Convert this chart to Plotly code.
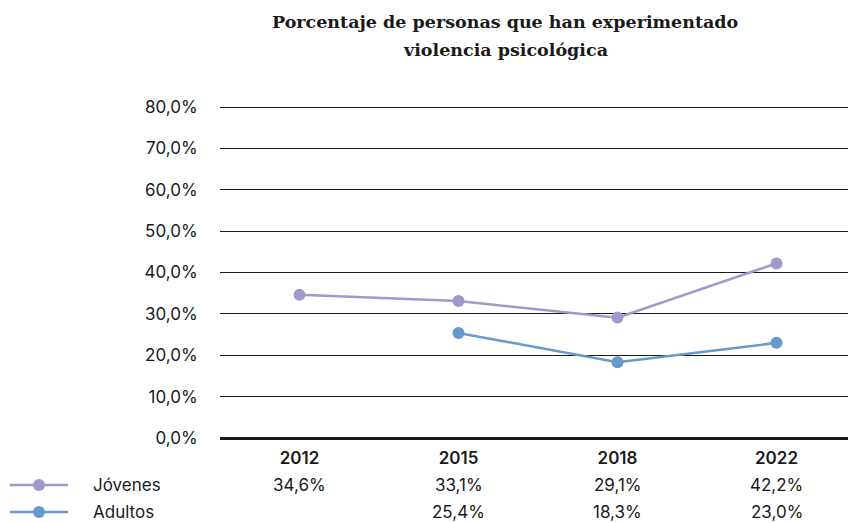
import plotly.graph_objects as go

# Data
years = ["2012", "2015", "2018", "2022"]
jovenes = [34.6, 33.1, 29.1, 42.2]
adultos = [None, 25.4, 18.3, 23.0]
series_names = ["Jóvenes", "Adultos"]
series_colors = ["#9F99CC", "#6699CC"]
y_ticks = [0, 10, 20, 30, 40, 50, 60, 70, 80]
title_lines = ["Porcentaje de personas que han experimentado", "violencia psicológica"]

# the page body has an 8px margin, so the figure is drawn 8px in
OFF = 8
W, H = 856 - OFF, 523 - OFF
L, T, B = 220 - OFF, 105 - OFF, 85
plot_w = W - L
plot_h = H - T - B
TXT = "#1a1a1a"


def fmt(v):
    return "" if v is None else f"{v:.1f}%".replace(".", ",")


def px_y(page_y):
    return (T + plot_h - (page_y - OFF)) / plot_h


def px_x(page_x):
    return (page_x - OFF - L) / plot_w


fig = go.Figure()
for name, vals, col in zip(series_names, [jovenes, adultos], series_colors):
    fig.add_trace(go.Scatter(
        x=years, y=vals, mode="lines+markers", name=name,
        line=dict(color=col, width=2.5),
        marker=dict(color=col, size=12),
        connectgaps=False, showlegend=False,
    ))

# data table below the axis (category index on the x axis)
row_px = [485, 512]
for name, vals, col, ypx in zip(series_names, [jovenes, adultos], series_colors, row_px):
    yp = px_y(ypx)
    for i, v in enumerate(vals):
        if v is None:
            continue
        fig.add_annotation(x=i, y=yp, xref="x", yref="paper", text=fmt(v),
                           showarrow=False, yanchor="middle",
                           font=dict(family="Inter", size=17, color=TXT))
    fig.add_annotation(x=px_x(91), y=yp, xref="paper", yref="paper",
                       text=name, showarrow=False, xanchor="left", yanchor="middle",
                       font=dict(family="Inter", size=17, color=TXT))
    fig.add_shape(type="line", xref="paper", yref="paper",
                  x0=px_x(10), x1=px_x(68), y0=yp, y1=yp,
                  line=dict(color=col, width=2.5))
    r = 6 / plot_w
    ry = 6 / plot_h
    fig.add_shape(type="circle", xref="paper", yref="paper",
                  x0=px_x(39) - r, x1=px_x(39) + r, y0=yp - ry, y1=yp + ry,
                  fillcolor=col, line=dict(width=0))

# title, two lines
for line, ypx in zip(title_lines, [22, 50]):
    fig.add_annotation(x=px_x(505), y=px_y(ypx), xref="paper", yref="paper",
                       text=f"<b>{line}</b>", showarrow=False,
                       xanchor="center", yanchor="middle",
                       font=dict(family="DejaVu Serif", size=17.5, color=TXT))

fig.update_layout(
    width=W, height=H,
    margin=dict(l=L, r=0, t=T, b=B),
    paper_bgcolor="white", plot_bgcolor="white",
    font=dict(family="Inter", size=17, color=TXT),
    xaxis=dict(
        type="category", range=[-0.5, 3.5], showgrid=False,
        ticks="outside", ticklen=5, tickcolor="rgba(0,0,0,0)",
        tickfont=dict(family="Inter", size=17, color=TXT, weight=600),
        showline=False, zeroline=False,
    ),
    yaxis=dict(
        range=[0, 80.5], tickvals=y_ticks,
        ticktext=[fmt(v) for v in y_ticks],
        showgrid=True, gridcolor=TXT, gridwidth=1,
        zeroline=True, zerolinecolor=TXT, zerolinewidth=2.5,
        ticks="outside", ticklen=18, tickcolor="rgba(0,0,0,0)",
        tickfont=dict(family="Inter", size=17, color=TXT),
    ),
)

fig.write_html("out.html")
